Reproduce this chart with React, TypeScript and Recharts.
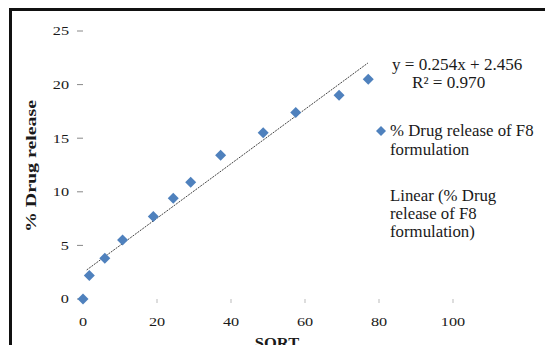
import { ScatterChart, Scatter, XAxis, YAxis } from "recharts";

// values
const sqrtTime = [0, 1.7, 5.9, 10.7, 19.0, 24.4, 29.1, 37.2, 48.7, 57.5, 69.2, 77.1];
const drugRelease = [0, 2.2, 3.8, 5.5, 7.7, 9.4, 10.9, 13.4, 15.5, 17.4, 19.0, 20.5];
const xTicks = [0, 20, 40, 60, 80, 100];
const yTicks = [0, 5, 10, 15, 20, 25];

const slope = 0.254;
const intercept = 2.456;
const rSquared = "0.970";
const trendX = [1, 77];

const seriesName = ["% Drug release of F8", "formulation"];
const trendName = ["Linear (% Drug", "release of F8", "formulation)"];

const points = sqrtTime.map((x, i) => ({ x, y: drugRelease[i] }));
const trend = trendX.map((x) => ({ x, y: slope * x + intercept }));

const font = "'Liberation Serif', 'Times New Roman', serif";
const blue = "#4F81BD";
const ink = "#1a1a1a";

// the scanned text is wider than plain Times, so stretch it sideways
const Wide = ({ x, y, rotate = 0, sx = 1.3, size = 13, bold = false, anchor = "start", dy, children }: any) => (
  <text
    transform={`translate(${x} ${y}) rotate(${rotate}) scale(${sx} 1)`}
    textAnchor={anchor}
    dy={dy}
    fontSize={size}
    fontWeight={bold ? "bold" : "normal"}
    fontFamily={font}
    fill={ink}
  >
    {children}
  </text>
);

const XTick = ({ x, y, payload }: any) => (
  <Wide x={x} y={y} anchor="middle" dy="0.71em" size={12.5} sx={1.3}>
    {payload.value}
  </Wide>
);

const YTick = ({ x, y, payload }: any) => (
  <Wide x={x} y={y} anchor="end" dy="0.355em" size={12.5} sx={1.3}>
    {payload.value}
  </Wide>
);

const Diamond = (props: any) => {
  const { cx, cy } = props;
  const r = 5.5;
  return (
    <polygon
      points={`${cx},${cy - r} ${cx + r},${cy} ${cx},${cy + r} ${cx - r},${cy}`}
      fill={blue}
    />
  );
};

export default function App() {
  return (
    <div style={{ position: "relative", width: 553, height: 353, margin: -8, background: "#fff" }}>
      {/* frame */}
      <div
        style={{
          position: "absolute",
          left: 9,
          top: 8,
          width: 544,
          height: 345,
          borderTop: "3px solid #111",
          borderLeft: "3px solid #111",
          boxSizing: "border-box",
        }}
      />

      <div style={{ position: "absolute", left: 0, top: 0 }}>
        <ScatterChart width={553} height={353} margin={{ top: 31, right: 100, bottom: 0, left: 0 }}>
          <XAxis
            type="number"
            dataKey="x"
            domain={[0, 100]}
            ticks={xTicks}
            axisLine={false}
            tickLine={{ stroke: "#bbb" }}
            tickSize={4}
            tickMargin={14}
            height={54}
            tick={<XTick />}
          />
          <YAxis
            type="number"
            dataKey="y"
            domain={[0, 25]}
            ticks={yTicks}
            axisLine={false}
            tickLine={{ stroke: "#888" }}
            tickSize={6}
            tickMargin={8}
            width={83}
            tick={<YTick />}
          />
          <Scatter data={trend} line={{ stroke: "#444", strokeWidth: 1, strokeDasharray: "2 1" }} shape={() => <g />} isAnimationActive={false} />
          <Scatter data={points} shape={<Diamond />} isAnimationActive={false} />
        </ScatterChart>
      </div>

      <svg width={553} height={353} style={{ position: "absolute", left: 0, top: 0, pointerEvents: "none" }}>
        <Wide x={31} y={166} rotate={-90} anchor="middle" dy="0.35em" size={14.5} sx={1.37} bold>
          % Drug release
        </Wide>
        <Wide x={277} y={348} anchor="middle" size={15} sx={1.1} bold>
          SQRT
        </Wide>

        <Wide x={392} y={70} size={16} sx={1.07}>
          {`y = ${slope}x + ${intercept}`}
        </Wide>
        <Wide x={412} y={88} size={16} sx={1.07}>
          R² = {rSquared}
        </Wide>

        <polygon points="381,126 386,131 381,136 376,131" fill={blue} />
        {seriesName.map((line, i) => (
          <Wide key={line} x={390} y={136 + i * 19} size={16} sx={1.05}>
            {line}
          </Wide>
        ))}
        {trendName.map((line, i) => (
          <Wide key={line} x={390} y={201 + i * 18} size={16} sx={1.05}>
            {line}
          </Wide>
        ))}
      </svg>
    </div>
  );
}
